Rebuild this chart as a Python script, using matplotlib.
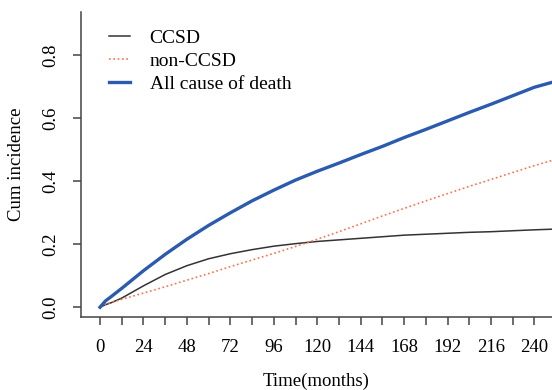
import numpy as np
import matplotlib
matplotlib.use("Agg")
import matplotlib.pyplot as plt

# months and cumulative incidence
months = [0, 3, 6, 12, 24, 36, 48, 60, 72, 84, 96, 108, 120, 132, 144, 156, 168,
          180, 192, 204, 216, 228, 240, 250]
ccsd = [0, 0.008, 0.014, 0.029, 0.068, 0.104, 0.132, 0.154, 0.170, 0.183, 0.194,
        0.202, 0.209, 0.214, 0.219, 0.224, 0.229, 0.232, 0.235, 0.238, 0.240,
        0.243, 0.246, 0.248]
non_ccsd = [0.005, 0.010, 0.015, 0.025, 0.045, 0.065, 0.086, 0.107, 0.129,
            0.150, 0.171, 0.193, 0.216, 0.240, 0.265, 0.290, 0.314, 0.338,
            0.361, 0.384, 0.406, 0.428, 0.450, 0.467]
all_cause = [0, 0.020, 0.033, 0.060, 0.116, 0.168, 0.216, 0.260, 0.300, 0.338,
             0.372, 0.404, 0.432, 0.458, 0.485, 0.511, 0.539, 0.565, 0.592,
             0.619, 0.645, 0.672, 0.699, 0.715]

labels = ["CCSD", "non-CCSD", "All cause of death"]
xticks = np.arange(0, 241, 12)
yticks = [0.0, 0.2, 0.4, 0.6, 0.8]

plt.rcParams["font.family"] = ["Liberation Serif", "DejaVu Serif"]

fig = plt.figure(figsize=(5.52, 3.90), dpi=100)
ax = fig.add_axes([81/552, 1 - 317/390, 1 - 81/552, (317 - 12)/390])

ax.plot(months, ccsd, color="#333333", lw=1.1, label=labels[0])
ax.plot(months, non_ccsd, color="#FF6F4F", lw=1.2, ls=(0, (1, 1.6)), label=labels[1])
ax.plot(months, all_cause, color="#2B5BAE", lw=2.4, label=labels[2])

ax.set_xlim(-10.5, 249.7)
ax.set_ylim(-0.031, 0.938)

ax.set_xticks(xticks)
ax.set_xticklabels([str(t) if t % 24 == 0 else "" for t in xticks])
ax.set_yticks(yticks)
ax.set_yticklabels(["%.1f" % v for v in yticks], rotation=90, va="center")

for s in ("top", "right"):
    ax.spines[s].set_visible(False)
for s in ("left", "bottom"):
    ax.spines[s].set_color("#444444")
    ax.spines[s].set_linewidth(1.1)
ax.tick_params(direction="out", length=6, width=1.1, color="#444444",
               labelsize=13.5, pad=10)
ax.tick_params(axis="x", pad=10)

ax.set_xlabel("Time(months)", fontsize=13.5, labelpad=12)
ax.set_ylabel("Cum incidence", fontsize=13.5, labelpad=12)

ax.legend(loc="upper left", bbox_to_anchor=(0.022, 1.0), frameon=False,
          fontsize=14, handlelength=1.1, handletextpad=1.0, labelspacing=0.27)

fig.savefig("out.png", dpi=100)
